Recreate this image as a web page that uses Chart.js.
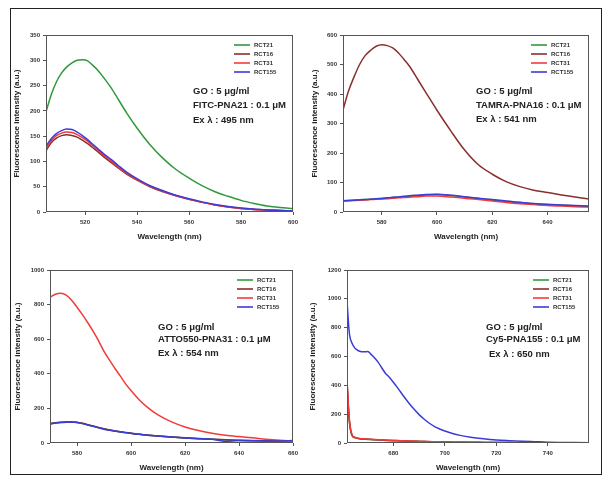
<!DOCTYPE html>
<html>
<head>
<meta charset="utf-8">
<script src="https://cdn.jsdelivr.net/npm/chart.js@4.4.1/dist/chart.umd.min.js"></script>
<style>
  body { margin: 0; background: #fff; width: 610px; height: 483px; position: relative; overflow: hidden; }
  .frame { position: absolute; left: 10px; top: 8px; width: 592px; height: 467px; border: 1px solid #222; box-sizing: border-box; }
  canvas { position: absolute; }
</style>
</head>
<body>
<div class="frame"></div>
<canvas id="c1" width="293" height="220" style="left:12px;top:22px"></canvas>
<canvas id="c2" width="291" height="220" style="left:310px;top:22px"></canvas>
<canvas id="c3" width="292" height="216" style="left:13px;top:257px"></canvas>
<canvas id="c4" width="293" height="216" style="left:308px;top:257px"></canvas>
<script>
const seriesNames = ['RCT21', 'RCT16', 'RCT31', 'RCT155'];
const seriesColors = ['#2f9a3c', '#8a2e2e', '#f23a3a', '#3b3bd6'];

// FITC-PNA21
const wl1 = [505,507,509,511,513,515,517,519,521,523,525,527,530,533,536,540,545,550,555,560,565,570,575,580,585,590,595,600];
const p1_rct21 = [198,232,257,275,287,295,300,301,299,290,280,267,246,221,196,166,133,106,84,67,52,40,31,23,17,12,9,7];
const p1_rct16 = [121,137,146,151,153,151,148,142,135,127,119,110,98,86,75,63,50,40,32,25,19,14,10,7,5,4,3,2];
const p1_rct31 = [125,141,151,156,158,157,153,147,140,131,122,113,101,88,77,64,51,41,32,25,19,14,10,7,5,4,3,2];
const p1_rct155 = [130,145,155,161,164,163,158,151,143,134,125,116,104,91,79,66,52,42,33,26,20,15,11,8,6,4,3,2];
const xTicks1 = [520, 540, 560, 580, 600];

// TAMRA-PNA16
const wl2 = [566,568,570,572,574,576,578,580,582,584,586,588,590,593,596,600,605,610,615,620,625,630,635,640,645,650,655];
const p2_rct21 = [38,39,40,41,42,43,44,46,47,49,50,52,54,56,58,59,56,51,46,41,36,32,28,25,23,21,19];
const p2_rct16 = [346,410,458,500,530,548,562,567,564,556,540,518,495,450,405,345,275,210,160,128,103,86,74,66,58,51,44];
const p2_rct31 = [37,38,39,40,41,42,43,44,45,47,48,49,50,52,54,54,51,47,42,37,32,28,25,22,20,18,17];
const p2_rct155 = [38,39,40,41,42,43,45,46,48,50,51,53,55,57,59,60,57,52,47,42,37,33,29,26,24,22,20];
const xTicks2 = [580, 600, 620, 640];

// ATTO550-PNA31
const wl3 = [570,572,574,576,578,580,582,584,586,588,590,592,594,596,598,600,603,606,610,615,620,625,630,635,640,645,650,655,660];
const p3_rct21 = [111,116,119,121,121,119,113,105,97,89,81,75,70,65,60,56,50,45,40,34,29,25,21,18,15,13,12,12,13];
const p3_rct16 = [112,117,120,122,122,120,114,106,98,90,82,76,70,65,61,57,51,46,41,35,30,26,22,19,16,14,13,13,14];
const p3_rct31 = [842,860,866,855,825,785,742,695,645,590,530,480,432,388,342,303,250,207,162,122,93,72,56,45,37,30,22,16,12];
const p3_rct155 = [110,115,118,120,121,118,112,104,96,88,80,74,69,64,60,56,50,45,40,34,29,25,21,9,14,13,12,12,13];
const xTicks3 = [580, 600, 620, 640, 660];

// Cy5-PNA155
const wl4 = [662,662.5,663,664,665,666,667,668,669,670,671,672,674,676,677,678,680,682,684,686,688,690,692,694,696,698,700,703,706,710,715,720,725,730,735,740,745,750,756];
const p4_rct21 = [425,255,135,50,37,32,29,27,26,25,24,23,21,19,18,17,16,15,14,13,12,11,10,9,8,8,7,6,5,4,4,3,3,2,2,2,1,1,1];
const p4_rct16 = [430,260,140,52,38,33,30,28,27,26,25,24,22,20,19,18,17,16,15,13,12,11,10,9,9,8,7,6,5,5,4,3,3,2,2,2,1,1,1];
const p4_rct31 = [440,270,150,55,40,34,31,29,28,27,26,25,23,21,20,19,18,17,15,14,13,12,11,10,9,8,7,6,6,5,4,3,3,2,2,2,1,1,1];
const p4_rct155 = [990,850,750,690,660,645,637,633,633,634,622,604,563,508,482,464,422,374,324,278,235,197,165,137,114,97,83,66,53,40,29,21,16,12,9,6,4,3,2];
const xTicks4 = [680, 700, 720, 740];

const FONT = "'Liberation Sans', Arial, sans-serif";

// frame, legend and note text inside the plot area
const inlay = {
  id: 'inlay',
  afterDatasetsDraw(chart, args, opts) {
    const ctx = chart.ctx;
    const a = chart.chartArea;
    ctx.save();
    ctx.strokeStyle = '#555';
    ctx.lineWidth = 1;
    ctx.strokeRect(Math.round(a.left) + 0.5, Math.round(a.top) + 0.5,
      Math.round(a.right - a.left) - 1, Math.round(a.bottom - a.top) - 1);

    const lg = opts.legend;
    ctx.font = 'bold 6px ' + FONT;
    ctx.textBaseline = 'middle';
    ctx.fillStyle = '#333';
    chart.data.datasets.forEach((ds, i) => {
      const y = lg.y + i * lg.step;
      ctx.strokeStyle = ds.borderColor;
      ctx.lineWidth = 1.6;
      ctx.beginPath();
      ctx.moveTo(lg.x, y);
      ctx.lineTo(lg.x + lg.len, y);
      ctx.stroke();
      ctx.fillText(ds.label, lg.x + lg.len + 4, y);
    });

    const nt = opts.note;
    ctx.font = 'bold 9.5px ' + FONT;
    ctx.fillStyle = '#222';
    nt.lines.forEach((t, i) => {
      ctx.fillText(t, nt.x + (i === 2 ? nt.exShift : 0), nt.y[i]);
    });
    ctx.restore();
  }
};

function makeChart(id, p) {
  const el = document.getElementById(id);
  const ox = parseFloat(el.style.left), oy = parseFloat(el.style.top);
  const seriesList = [p.s21, p.s16, p.s31, p.s155];
  new Chart(el, {
    type: 'line',
    data: {
      datasets: seriesList.map((vals, i) => ({
        label: seriesNames[i],
        data: p.wl.map((x, k) => ({ x: x, y: vals[k] })),
        borderColor: seriesColors[i],
        borderWidth: 1.5,
        pointRadius: 0,
        fill: false,
        cubicInterpolationMode: 'monotone',
        order: 3 - i
      }))
    },
    options: {
      responsive: false,
      animation: false,
      devicePixelRatio: 1,
      layout: { padding: { left: 0, top: p.area.t - oy, right: ox + el.width - p.area.r, bottom: 0 } },
      plugins: {
        legend: { display: false },
        tooltip: { enabled: false },
        inlay: {
          legend: { x: p.legend.x - ox, y: p.legend.y - oy, step: 9, len: 16 },
          note: { x: p.note.x - ox, y: p.note.y.map(v => v - oy), exShift: p.note.exShift || 0, lines: p.note.lines }
        }
      },
      scales: {
        x: {
          type: 'linear',
          min: p.xMin,
          max: p.xMax,
          afterBuildTicks: axis => { axis.ticks = p.xTicks.map(v => ({ value: v })); },
          afterFit: s => { s.height = oy + el.height - p.area.b; },
          grid: { drawOnChartArea: false, tickLength: 3, color: '#555' },
          border: { display: false },
          ticks: { padding: 4, color: '#333', font: { family: FONT, size: 6, weight: 'bold' }, maxRotation: 0 },
          title: { display: true, text: 'Wavelength (nm)', color: '#222', padding: 0, font: { family: FONT, size: 8, weight: 'bold' } }
        },
        y: {
          min: 0,
          max: p.yMax,
          ticks: { stepSize: p.yStep, padding: 3, color: '#333', font: { family: FONT, size: 6, weight: 'bold' }, callback: v => String(v) },
          afterFit: s => { s.width = p.area.l - ox; },
          grid: { drawOnChartArea: false, tickLength: 3, color: '#555' },
          border: { display: false },
          title: { display: true, text: 'Fluorescence intensity (a.u.)', color: '#222', padding: 0, font: { family: FONT, size: 8, weight: 'bold' } }
        }
      }
    },
    plugins: [inlay]
  });
}

makeChart('c1', {
  wl: wl1, s21: p1_rct21, s16: p1_rct16, s31: p1_rct31, s155: p1_rct155,
  xMin: 505, xMax: 600, xTicks: xTicks1, yMax: 350, yStep: 50,
  area: { l: 46, t: 35, r: 293, b: 212 },
  legend: { x: 234, y: 45 },
  note: { x: 193, y: [91, 105, 120], lines: ['GO : 5 μg/ml', 'FITC-PNA21 : 0.1 μM', 'Ex λ : 495 nm'] }
});
makeChart('c2', {
  wl: wl2, s21: p2_rct21, s16: p2_rct16, s31: p2_rct31, s155: p2_rct155,
  xMin: 566, xMax: 655, xTicks: xTicks2, yMax: 600, yStep: 100,
  area: { l: 343, t: 35, r: 589, b: 212 },
  legend: { x: 531, y: 45 },
  note: { x: 476, y: [91, 105, 119], lines: ['GO : 5 μg/ml', 'TAMRA-PNA16 : 0.1 μM', 'Ex λ : 541 nm'] }
});
makeChart('c3', {
  wl: wl3, s21: p3_rct21, s16: p3_rct16, s31: p3_rct31, s155: p3_rct155,
  xMin: 570, xMax: 660, xTicks: xTicks3, yMax: 1000, yStep: 200,
  area: { l: 50, t: 270, r: 293, b: 443 },
  legend: { x: 237, y: 280 },
  note: { x: 158, y: [327, 339, 353], lines: ['GO : 5 μg/ml', 'ATTO550-PNA31 : 0.1 μM', 'Ex λ : 554 nm'] }
});
makeChart('c4', {
  wl: wl4, s21: p4_rct21, s16: p4_rct16, s31: p4_rct31, s155: p4_rct155,
  xMin: 662, xMax: 756, xTicks: xTicks4, yMax: 1200, yStep: 200,
  area: { l: 347, t: 270, r: 589, b: 443 },
  legend: { x: 533, y: 280 },
  note: { x: 486, y: [327, 339, 354], exShift: 3, lines: ['GO : 5 μg/ml', 'Cy5-PNA155 : 0.1 μM', 'Ex λ : 650 nm'] }
});
</script>
</body>
</html>
